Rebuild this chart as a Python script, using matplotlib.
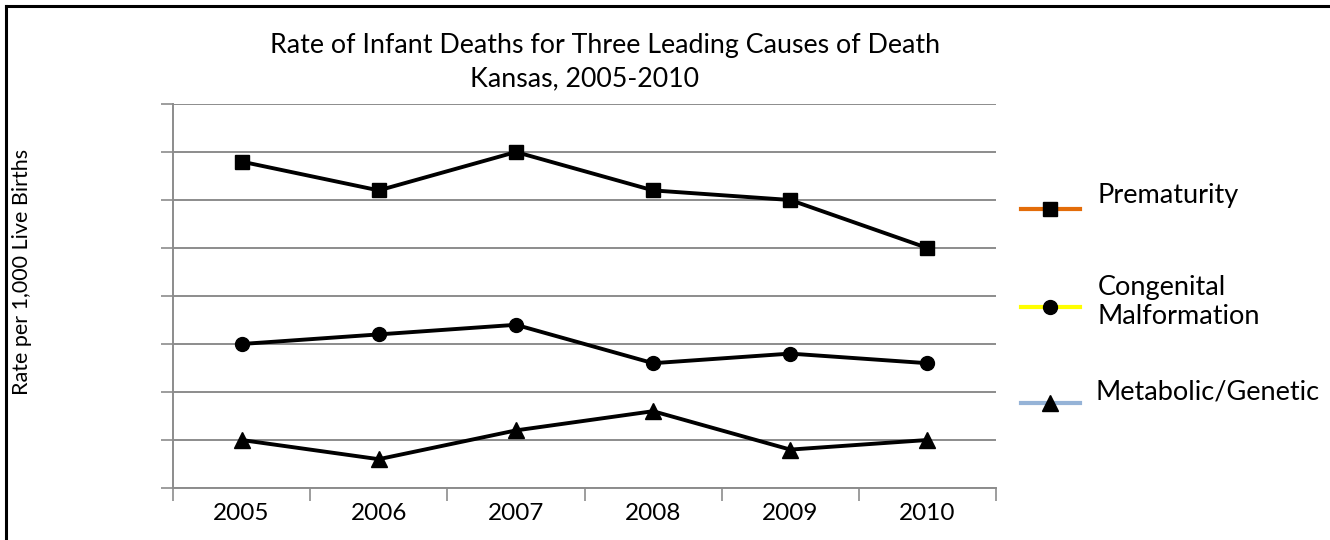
import matplotlib
matplotlib.use("Agg")
import matplotlib.pyplot as plt
from matplotlib.lines import Line2D

years = ["2005", "2006", "2007", "2008", "2009", "2010"]
prematurity = [6.8, 6.2, 7.0, 6.2, 6.0, 5.0]
congenital = [3.0, 3.2, 3.4, 2.6, 2.8, 2.6]
metabolic = [1.0, 0.6, 1.2, 1.6, 0.8, 1.0]
series_names = ["Prematurity", "Congenital\nMalformation", "Metabolic/Genetic"]
legend_colors = ["#E36C09", "#FFFF00", "#95B3D7"]
markers = ["s", "o", "^"]

plt.rcParams["font.family"] = ["Lato", "DejaVu Sans"]

W, H = 1330, 540
fig = plt.figure(figsize=(W / 100, H / 100), dpi=100)
fig.patch.set_facecolor("white")


def fx(px):
    return px / W


def fy(py):
    return 1 - py / H


# outer frame (left and top edges)
fig.add_artist(Line2D([fx(6), fx(6)], [0, fy(6)], transform=fig.transFigure,
                      color="black", lw=2.2))
fig.add_artist(Line2D([fx(6), 1], [fy(6), fy(6)], transform=fig.transFigure,
                      color="black", lw=2.2))

left, right, top, bottom = 173, 996, 104, 488
ax = fig.add_axes([fx(left), fy(bottom), (right - left) / W, (bottom - top) / H])

x = list(range(len(years)))
grid_color = "#8C8C8C"
for vals, m in zip([prematurity, congenital, metabolic], markers):
    ms = 11 if m == "^" else 10
    ax.plot(x, vals, color="black", lw=2.8, marker=m, markersize=ms,
            markerfacecolor="black", markeredgecolor="black", zorder=3, clip_on=False)

ax.set_xlim(-0.5, len(years) - 0.5)
ax.set_ylim(0, 8)
ax.set_yticks(range(0, 9))
ax.set_yticklabels([])
ax.yaxis.grid(True, color=grid_color, lw=1.4)
ax.set_axisbelow(True)
ax.tick_params(axis="y", length=9, width=1.2, color=grid_color, direction="out")

ax.set_xticks(x)
ax.set_xticklabels(years, fontsize=17.5)
ax.set_xticks([i - 0.5 for i in range(len(years) + 1)], minor=True)
ax.tick_params(axis="x", which="major", length=0, pad=11)
ax.tick_params(axis="x", which="minor", length=9, width=1.2, color=grid_color, direction="out")

for s in ["top", "right"]:
    ax.spines[s].set_visible(False)
for s in ["left", "bottom"]:
    ax.spines[s].set_color(grid_color)
    ax.spines[s].set_linewidth(1.4)

fig.text(fx(22), fy(272), "Rate per 1,000 Live Births", rotation=90,
         ha="center", va="center", fontsize=15.5)

fig.text(fx(605), fy(45), "Rate of Infant Deaths for Three Leading Causes of Death",
         ha="center", va="center", fontsize=19.3)
fig.text(fx(585), fy(79), "Kansas, 2005-2010", ha="center", va="center", fontsize=19.3)

# legend: coloured key line with black marker, label beside it
key_y = [209, 307, 403]
text_pos = [(1098, 196), (1098, 302), (1095, 392)]
for c, m, ky, (tx, ty), name in zip(legend_colors, markers, key_y, text_pos, series_names):
    fig.add_artist(Line2D([fx(1021), fx(1080)], [fy(ky), fy(ky)], transform=fig.transFigure,
                          color=c, lw=3))
    fig.add_artist(Line2D([fx(1050)], [fy(ky)], transform=fig.transFigure,
                          marker=m, markersize=11 if m == "^" else 10, color="black",
                          markerfacecolor="black", markeredgecolor="black", lw=0))
    fig.text(fx(tx), fy(ty), name, ha="left", va="center", fontsize=19.5,
             linespacing=1.25)

fig.savefig("out.png", dpi=100, facecolor="white")
